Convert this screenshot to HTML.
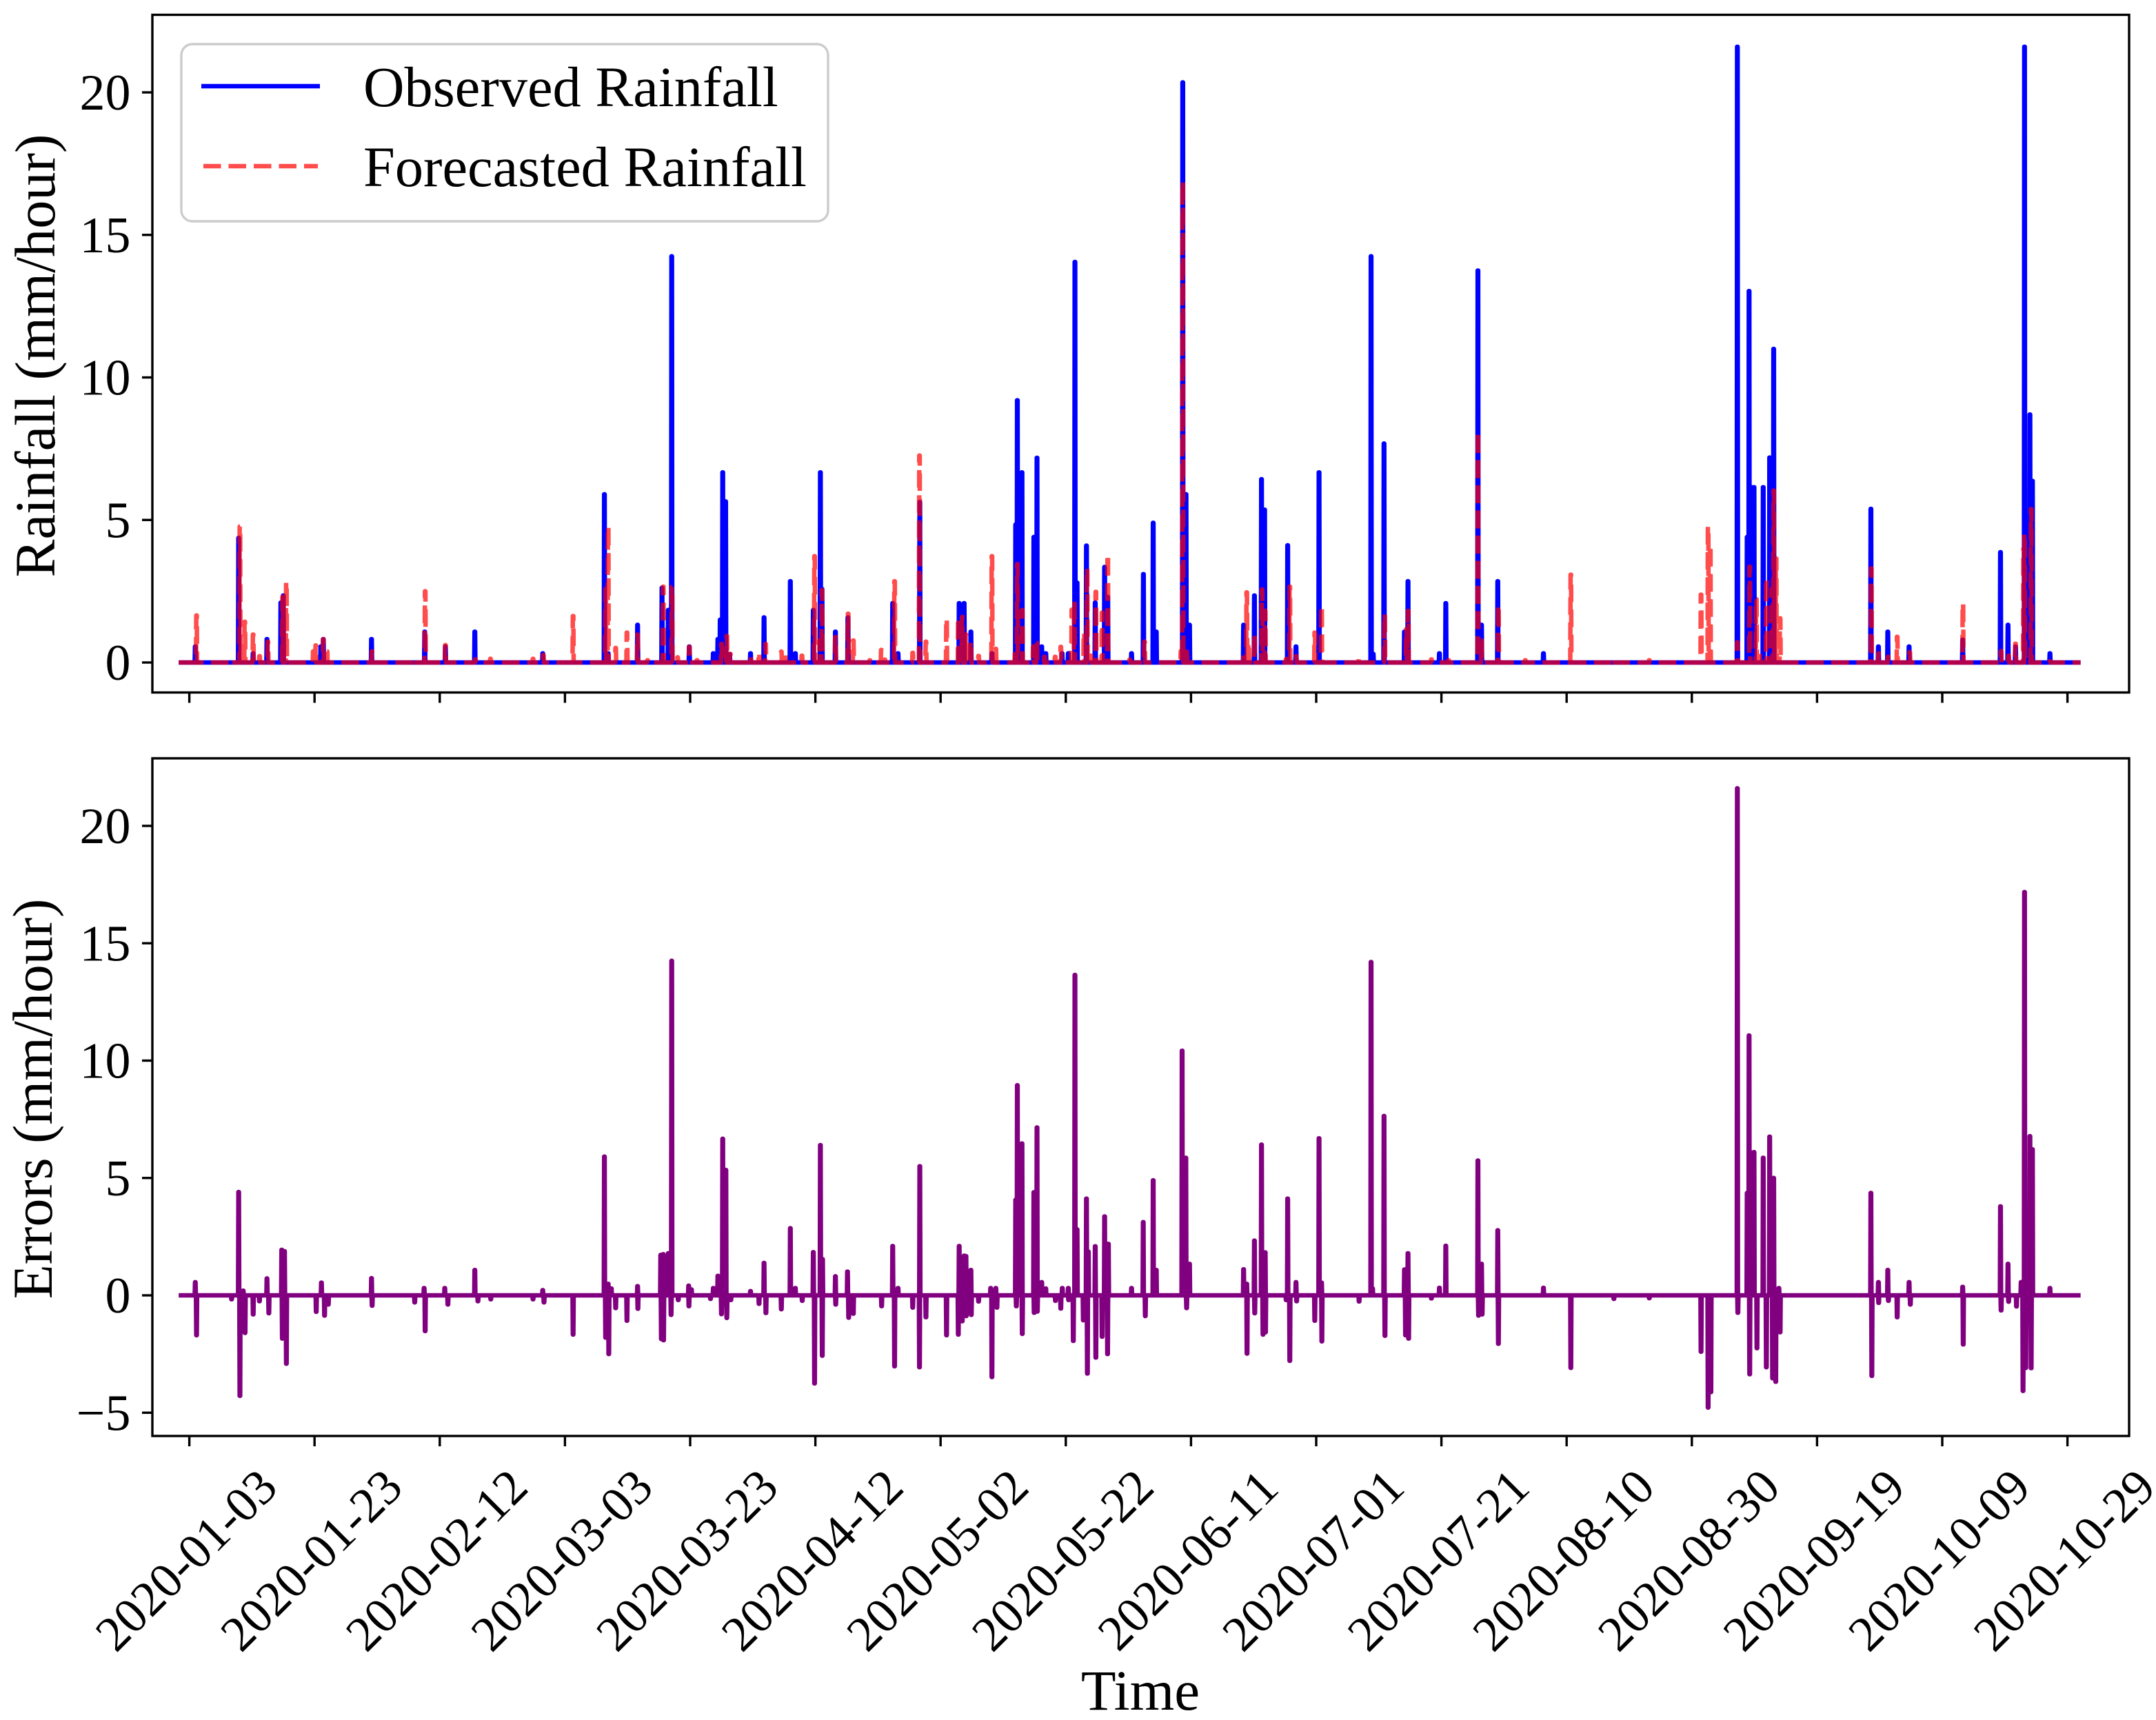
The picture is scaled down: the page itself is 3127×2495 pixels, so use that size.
<!DOCTYPE html>
<html lang="en">
<head>
<meta charset="utf-8">
<title>Observed and forecasted rainfall with errors</title>
<style>
html,body{margin:0;padding:0;background:#fff;}
svg{display:block;}
text{font-family:"Liberation Serif","Times New Roman",serif;fill:#000;}
</style>
</head>
<body>
<svg id="chart" xmlns="http://www.w3.org/2000/svg" width="3127" height="2495" viewBox="0 0 3127 2495">
  <rect x="0" y="0" width="3127" height="2495" fill="#fff"/>
  <g id="rain-panel">
    <g id="rain-ticks"></g>
    <g id="rain-xticks"></g>
    <path id="obs-line" fill="none" stroke="#0000ff" stroke-width="6.5" stroke-linejoin="round"/>
    <path id="fcst-line" fill="none" stroke="#ff0000" stroke-opacity="0.7" stroke-width="6.5" stroke-linejoin="round" stroke-dasharray="25.5 11"/>
    <rect x="221" y="21.5" width="2867" height="983" fill="none" stroke="#000" stroke-width="3.4"/>
    <g>
      <rect x="263" y="64" width="938" height="257" rx="16" ry="16" fill="#fff" fill-opacity="0.8" stroke="#cccccc" stroke-width="3.4"/>
      <line x1="292" y1="125" x2="464" y2="125" stroke="#0000ff" stroke-width="6.5"/>
      <text x="527" y="154" font-size="82.4">Observed Rainfall</text>
      <line x1="295" y1="241" x2="461" y2="241" stroke="#ff0000" stroke-opacity="0.7" stroke-width="6.5" stroke-dasharray="25.5 11"/>
      <text x="527" y="270" font-size="82.4">Forecasted Rainfall</text>
    </g>
    <text transform="translate(79,516) rotate(-90)" text-anchor="middle" font-size="82.4">Rainfall (mm/hour)</text>
  </g>
  <g id="err-panel">
    <g id="err-ticks"></g>
    <g id="err-xticks"></g>
    <path id="err-line" fill="none" stroke="#800080" stroke-width="6.5" stroke-linejoin="round"/>
    <rect x="221" y="1100" width="2867" height="983" fill="none" stroke="#000" stroke-width="3.4"/>
    <text transform="translate(75,1594) rotate(-90)" text-anchor="middle" font-size="82">Errors (mm/hour)</text>
    <text x="1654" y="2480" text-anchor="middle" font-size="83">Time</text>
  </g>
</svg>
<script>
// Date tick labels (every 20 days, first one is day 0)
const dateLabels = ["2020-01-03","2020-01-23","2020-02-12","2020-03-03","2020-03-23","2020-04-12","2020-05-02","2020-05-22","2020-06-11","2020-07-01","2020-07-21","2020-08-10","2020-08-30","2020-09-19","2020-10-09","2020-10-29"];
const dateTickDays = [0,20,40,60,80,100,120,140,160,180,200,220,240,260,280,300];
const rainTickValues = [0,5,10,15,20];
const errTickValues = [-5,0,5,10,15,20];
const firstDay = -1.7;
const lastDay = 302.1;

// Observed rainfall events: day since 2020-01-03, mm/hour
const obsDays = [0.95,7.88,10.19,12.4,14.62,15.01,21,21.4,29.1,37.6,40.9,45.6,56.45,66.3,66.9,71.6,75.5,76.5,77.05,79.86,83.7,84.43,84.8,85.2,85.66,86.3,89.64,91.8,96,96.8,99.67,100.8,101.05,103.2,105.2,112.35,113.2,116.68,122.97,123.76,124.84,128.2,132,132.26,133,134.9,135.4,136.15,136.8,139.4,140.4,141.46,141.8,143.3,144.7,146.2,146.7,150.5,152.4,153.96,154.45,158.68,159.2,159.76,168.4,170.13,171.26,171.75,175.44,176.77,180.45,188.76,189.1,190.83,194.1,194.66,199.68,200.7,205.83,206.4,209,216.3,247.27,248.84,249.14,249.5,249.93,251.4,252.43,252.9,253.07,268.6,269.8,271.3,274.7,283.26,289.3,290.5,291.7,293.14,294,294.4,297.2];
const obsRain = [0.56,4.37,0.32,0.82,2.1,2.35,0.56,0.82,0.82,1.08,0.56,1.08,0.32,5.9,0.32,1.32,2.62,1.84,14.25,0.56,0.32,0.82,1.5,6.67,5.65,0.3,0.32,1.58,2.85,0.32,1.84,6.67,2.58,1.08,1.58,2.08,0.32,5.63,2.08,2.08,1.08,0.32,4.84,9.2,6.67,4.4,7.18,0.56,0.32,0.32,0.32,14.05,2.8,4.1,2.1,3.35,2.3,0.32,3.1,4.9,1.08,20.35,5.9,1.32,1.32,2.35,6.43,5.36,4.11,0.56,6.67,14.25,0.3,7.68,1.08,2.85,0.32,2.08,13.75,1.32,2.85,0.32,21.6,4.4,13.03,6.15,6.15,6.15,7.19,7.1,11,5.39,0.56,1.08,0.56,0.8,3.87,1.32,0.56,21.6,8.7,6.37,0.32];

// Forecasted rainfall events
const fcstDays = [1.15,6.65,8.08,8.6,8.86,10.19,11.22,12.55,14.9,15.01,15.5,19.8,20.2,21.4,22,29.17,36,37.67,40.9,45.7,48.1,54.9,56.55,61.3,66.5,66.9,68.1,69.9,71.6,73.2,75.7,77.1,78,79.86,81.1,85,85.85,86.4,89.64,91,92.05,94.56,95.15,97.85,99.87,100.7,101.05,103.2,105.23,106.06,108.7,110.53,111.1,112.65,115.55,116.63,117.66,120.95,122.83,123.46,124.05,124.84,126.07,128.2,128.82,131.9,132.26,133.05,134.8,135.36,136.6,138.3,139.2,140.97,141.36,142.9,143.4,144,144.8,145.8,146.7,150.2,152.58,158.4,158.68,159.3,168.3,168.9,169.2,170.13,171.36,171.85,175.2,175.78,176.8,179.77,180.85,186.85,190.93,194.4,194.7,198.4,201.15,205.83,206.4,209.1,213.4,220.67,227.55,233.2,241.47,242.6,242.94,247.27,249.24,250.3,250.8,251.9,252.8,253.07,253.46,254.1,268.66,269.84,271.36,272.8,274.8,283.3,289.4,290.6,291.7,293,293.14,294.2,297.2];
const fcstRain = [1.65,0.08,4.77,0.32,1.43,0.98,0.22,0.73,2.3,2.3,2.82,0.39,0.6,0.82,0.39,0.39,0.13,2.5,0.61,0.11,0.13,0.13,0.26,1.63,2.58,4.77,0.51,1.05,0.98,0.08,2.66,2.65,0.18,0.55,0.08,0.65,0.93,0.3,0.2,0.35,0.65,0.38,0.3,0.24,3.73,0.77,2.54,0.89,1.71,0.77,0.08,0.44,0.1,2.85,0.34,7.26,0.73,1.53,1.57,1.6,0.98,0.73,0.23,3.73,0.48,0.4,3.45,1.84,0.56,0.69,0.2,0.2,0.55,1.85,2.16,1.05,3.3,0.24,2.48,1.75,3.79,0.1,0.73,0.4,16.88,0.54,0.28,2.46,0.69,1,2.56,1.81,0.12,2.66,0.22,1.05,1.98,0.22,1.69,1.17,1.81,0.11,0.08,8.1,0.77,2.02,0.08,3.08,0.13,0.08,2.38,4.77,4.11,0.71,3.36,2.22,0.32,2.94,2.58,6.03,3.65,1.55,3.3,0.32,0.2,0.9,0.36,2.07,0.4,0.24,0.66,3.99,4.52,5.38,0.04];

// Forecast errors events
const errDays = [0.95,1.15,6.75,7.88,8.08,8.6,8.9,10.2,11.2,12.4,12.7,14.76,14.86,15.2,15.5,20.27,21.1,21.6,22.2,29.1,29.2,36,37.5,37.67,40.8,41.3,45.6,46.1,48.15,54.9,56.45,56.65,61.3,66.3,66.5,66.9,67,67.4,68.1,69.9,71.6,71.65,75.3,75.4,75.7,75.75,76.5,76.95,77.05,78.1,79.76,79.8,80.2,83.25,83.7,84.43,85,85.2,85.7,85.85,86.5,89.64,91,91.8,92.1,94.56,96,96.8,97.9,99.67,99.87,100.8,101.1,101.14,103.2,103.25,105.13,105.32,106.06,110.58,112.35,112.65,113.2,115.55,116.63,116.68,117.66,120.95,122.83,122.97,123.46,123.76,124.05,124.1,124.84,124.9,126.07,128,128.2,128.82,129,132,132.1,132.26,133,133.05,134.9,134.95,135.4,135.45,136.15,136.8,138.35,139.2,139.44,140.4,140.45,141.2,141.46,141.8,142.8,143.3,143.45,143.6,144.7,144.8,145.8,146.2,146.67,146.8,150.5,152.37,152.7,153.96,154.45,158.58,159.17,159.3,159.76,168.4,168.9,168.95,170.13,170.18,171.26,171.5,171.85,171.9,175.2,175.44,175.78,176.77,176.87,179.77,180.45,180.85,180.9,186.85,188.76,189,190.83,190.98,194.1,194.27,194.66,194.76,198.4,199.68,200.7,205.83,205.93,206.4,206.5,209,209.1,216.3,220.67,227.55,233.2,241.47,242.6,243.04,247.27,247.35,248.84,249.14,249.24,249.5,249.93,250.4,251.4,251.9,252.43,252.9,253.07,253.4,253.9,254.1,268.6,268.75,269.8,269.84,271.3,271.4,272.8,274.7,274.9,283.26,283.35,289.3,289.4,290.5,290.6,291.86,292.6,292.9,293.14,293.34,294,294.2,294.4,297.2];
const errVals = [0.56,-1.7,-0.17,4.4,-4.28,0.2,-1.6,-0.81,-0.25,0.72,-0.76,1.94,-1.84,1.88,-2.91,-0.7,0.54,-0.86,-0.39,0.73,-0.44,-0.3,0.31,-1.52,0.31,-0.39,1.08,-0.25,-0.17,-0.17,0.22,-0.3,-1.67,5.91,-1.8,0.49,-2.5,0.29,-0.54,-1.08,0.39,-0.57,1.72,-1.86,1.75,-1.91,1.79,-0.83,14.25,-0.2,0.41,-0.46,0.25,-0.15,0.31,0.83,-0.8,6.67,5.34,-0.96,-0.2,0.18,-0.36,1.38,-0.75,-0.59,2.86,0.31,-0.23,1.84,-3.75,6.4,-2.57,1.54,0.81,-0.39,1.01,-0.95,-0.78,-0.46,2.1,-3.02,0.31,-0.52,-3.06,5.5,-0.93,-1.7,-1.67,2.1,-1.1,1.69,1.67,-0.88,1.08,-0.83,-0.26,0.31,-3.48,0.31,-0.52,4.07,-0.46,8.95,6.47,-1.64,4.39,-0.74,7.15,-0.69,0.56,0.29,-0.23,-0.56,0.31,0.31,-0.2,-1.94,13.65,2.81,-1.06,4.12,-3.33,1.86,2.09,-2.65,-1.76,3.36,-2.5,2.19,0.31,3.12,-0.88,4.9,1.08,10.42,5.86,-0.54,1.34,1.11,0.49,-2.48,2.33,-0.76,6.42,-1.67,1.83,-1.57,-0.2,4.12,-2.79,0.56,-0.25,-1.08,6.69,0.54,-1.96,-0.26,14.2,0.29,7.64,-1.72,1.1,-1.7,1.79,-1.84,-0.13,0.32,2.11,5.74,-0.86,1.34,-0.81,2.77,-2.06,0.32,-3.09,-0.15,-0.12,-2.4,-4.78,-4.12,21.6,-0.74,4.36,11.07,-3.36,6.08,6.1,-2.25,5.86,-3.06,6.76,-3.53,5,-3.68,0.31,-1.57,4.36,-3.43,0.56,-0.32,1.08,-0.23,-0.93,0.56,-0.39,0.36,-2.09,3.79,-0.64,1.34,-0.27,-0.47,0.56,-4.07,17.18,-3.09,6.78,-3.1,6.22,0.31];

const SVG_NS = "http://www.w3.org/2000/svg";

// Axis functions
function xScale(day) { return 274.6 + day * 9.08; }
function rainY(v) { return 961 - v * 41.35; }
function errY(v) { return 1879 - v * 34.05; }

// Line builder: each event is a narrow pulse rising off the zero baseline
function spikePath(days, vals, yScale) {
  const order = days.map(function (_, i) { return i; }).sort(function (a, b) { return days[a] - days[b]; });
  const edge = 0.09;
  const crest = 0.04;
  let d = "M" + xScale(firstDay).toFixed(2) + " " + yScale(0).toFixed(2);
  order.forEach(function (i) {
    d += "L" + xScale(days[i] - edge).toFixed(2) + " " + yScale(0).toFixed(2);
    d += "L" + xScale(days[i] - crest).toFixed(2) + " " + yScale(vals[i]).toFixed(2);
    d += "L" + xScale(days[i] + crest).toFixed(2) + " " + yScale(vals[i]).toFixed(2);
    d += "L" + xScale(days[i] + edge).toFixed(2) + " " + yScale(0).toFixed(2);
  });
  d += "L" + xScale(lastDay).toFixed(2) + " " + yScale(0).toFixed(2);
  return d;
}

document.getElementById("obs-line").setAttribute("d", spikePath(obsDays, obsRain, rainY));
document.getElementById("fcst-line").setAttribute("d", spikePath(fcstDays, fcstRain, rainY));
document.getElementById("err-line").setAttribute("d", spikePath(errDays, errVals, errY));

function drawYTicks(groupId, values, yScale, prefix) {
  const group = document.getElementById(groupId);
  values.forEach(function (v) {
    const y = yScale(v);
    const tick = document.createElementNS(SVG_NS, "line");
    
    
    tick.setAttribute("x1", 206);
    tick.setAttribute("x2", 221);
    tick.setAttribute("y1", y);
    tick.setAttribute("y2", y);
    tick.setAttribute("stroke", "#000");
    tick.setAttribute("stroke-width", 3.4);
    group.appendChild(tick);
    const label = document.createElementNS(SVG_NS, "text");
    
    
    label.setAttribute("x", 189.5);
    label.setAttribute("y", y + 25);
    label.setAttribute("text-anchor", "end");
    label.setAttribute("font-size", 74);
    label.textContent = v < 0 ? "\u2212" + Math.abs(v) : String(v);
    group.appendChild(label);
  });
}

function drawXTicks(groupId, top, withLabels, prefix) {
  const group = document.getElementById(groupId);
  dateTickDays.forEach(function (day, i) {
    const x = xScale(day);
    const tick = document.createElementNS(SVG_NS, "line");
    
    
    tick.setAttribute("x1", x);
    tick.setAttribute("x2", x);
    tick.setAttribute("y1", top);
    tick.setAttribute("y2", top + 15);
    tick.setAttribute("stroke", "#000");
    tick.setAttribute("stroke-width", 3.4);
    group.appendChild(tick);
    if (withLabels) {
      const label = document.createElementNS(SVG_NS, "text");
      
      
      label.setAttribute("transform", "translate(" + (x - 4.6) + ",2263) rotate(-45)");
      label.setAttribute("y", 24);
      label.setAttribute("text-anchor", "middle");
      label.setAttribute("font-size", 72);
      label.textContent = dateLabels[i];
      group.appendChild(label);
    }
  });
}

drawYTicks("rain-ticks", rainTickValues, rainY, "rainfall");
drawYTicks("err-ticks", errTickValues, errY, "errors");
drawXTicks("rain-xticks", 1004.5, false, "rainfall");
drawXTicks("err-xticks", 2083, true, "errors");
</script>
</body>
</html>
